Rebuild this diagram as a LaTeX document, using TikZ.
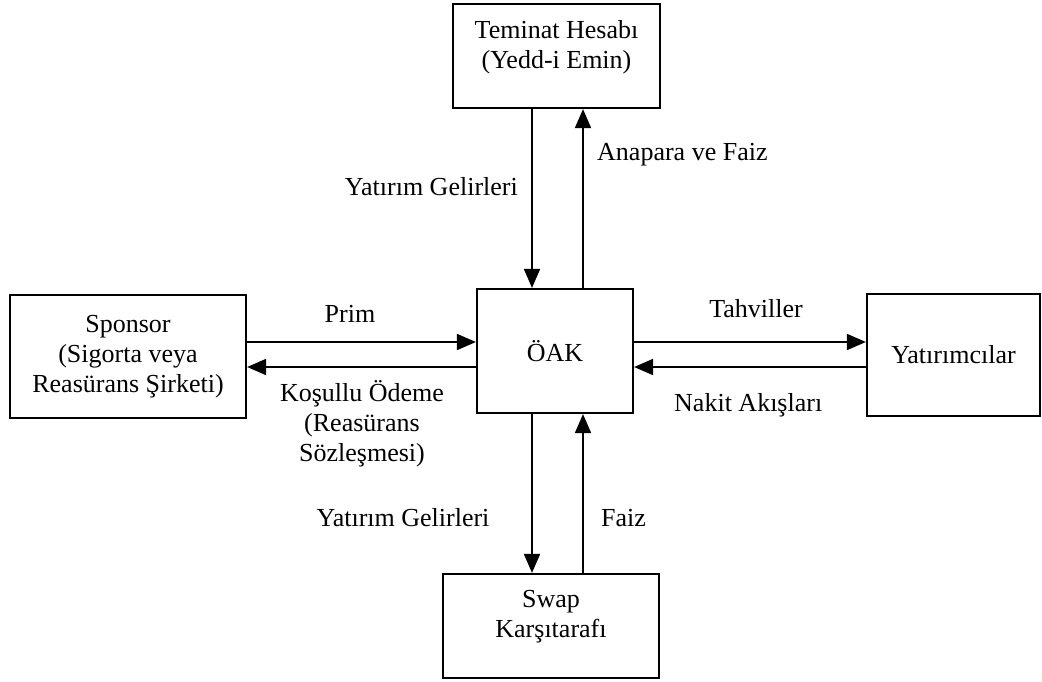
\documentclass[tikz,border=0pt]{standalone}
\usepackage{fontspec}
\setmainfont{Liberation Serif}
\usetikzlibrary{arrows.meta}
\begin{document}
\begin{tikzpicture}[x=1pt,y=-1pt,
  txt/.style={font=\fontsize{26}{30}\selectfont},
  box/.style={draw, line width=2.2pt, align=center, inner sep=0pt, txt},
  lbl/.style={align=center, inner sep=0pt, txt},
  arr/.style={line width=1.8pt, -{Triangle[length=19pt,width=16pt]}}]
\useasboundingbox (0,0) rectangle (1042,681);
\node[box, minimum width=207pt, minimum height=104pt] (tem) at (556.5,56) {};
\node[lbl] (temt) at (556.5,47.5) {Teminat Hesabı\\(Yedd-i Emin)};
\node[box, minimum width=156pt, minimum height=124pt] (oak) at (555,351) {ÖAK};
\node[box, minimum width=236pt, minimum height=123pt] (spo) at (128,356.5) {Sponsor\\(Sigorta veya\\Reasürans Şirketi)};
\node[box, minimum width=173pt, minimum height=122pt] (yat) at (953.5,355) {Yatırımcılar};
\node[box, minimum width=216pt, minimum height=104pt] (swp) at (551,626) {};
\node[lbl] (swpt) at (551,617) {Swap\\Karşıtarafı};
\coordinate (xa) at (532,0);
\coordinate (xb) at (583,0);
\coordinate (ya) at (0,342);
\coordinate (yb) at (0,367);
\draw[arr] (tem.south -| xa) -- (oak.north -| xa);
\draw[arr] (oak.north -| xb) -- (tem.south -| xb);
\draw[arr] (spo.east |- ya) -- (oak.west |- ya);
\draw[arr] (oak.west |- yb) -- (spo.east |- yb);
\draw[arr] (oak.east |- ya) -- (yat.west |- ya);
\draw[arr] (yat.west |- yb) -- (oak.east |- yb);
\draw[arr] (oak.south -| xa) -- (swp.north -| xa);
\draw[arr] (swp.north -| xb) -- (oak.south -| xb);
\node[lbl, anchor=east] (l1) at (518,187) {Yatırım Gelirleri};
\node[lbl, anchor=west] (l2) at (597,155) {Anapara ve Faiz};
\node[lbl] (l3) at (350,314) {Prim};
\node[lbl, anchor=north] (l4) at (362,380) {Koşullu Ödeme\\(Reasürans\\Sözleşmesi)};
\node[lbl] (l5) at (756,309) {Tahviller};
\node[lbl, anchor=west] (l6) at (674,405) {Nakit Akışları};
\node[lbl] (l7) at (403,518) {Yatırım Gelirleri};
\node[lbl, anchor=west] (l8) at (601,518) {Faiz};
\end{tikzpicture}
\end{document}
